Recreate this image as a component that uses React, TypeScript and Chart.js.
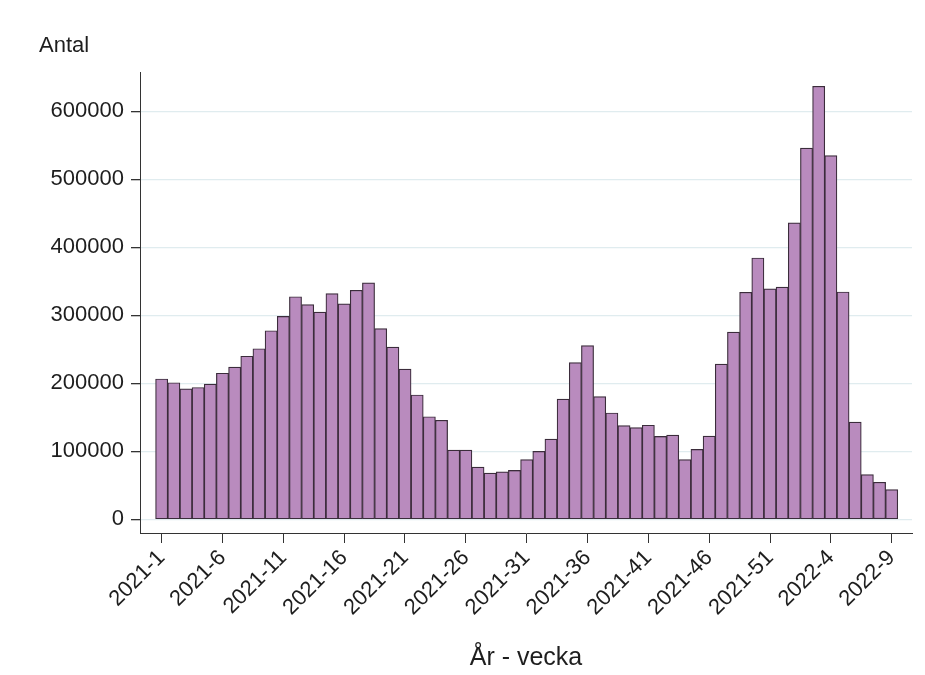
import { useEffect, useRef } from 'react';
import { Chart, registerables } from 'chart.js';

Chart.register(...registerables);

const weeks: string[] = [
  '2021-1', '2021-2', '2021-3', '2021-4', '2021-5', '2021-6', '2021-7', '2021-8', '2021-9', '2021-10',
  '2021-11', '2021-12', '2021-13', '2021-14', '2021-15', '2021-16', '2021-17', '2021-18', '2021-19', '2021-20',
  '2021-21', '2021-22', '2021-23', '2021-24', '2021-25', '2021-26', '2021-27', '2021-28', '2021-29', '2021-30',
  '2021-31', '2021-32', '2021-33', '2021-34', '2021-35', '2021-36', '2021-37', '2021-38', '2021-39', '2021-40',
  '2021-41', '2021-42', '2021-43', '2021-44', '2021-45', '2021-46', '2021-47', '2021-48', '2021-49', '2021-50',
  '2021-51', '2021-52', '2022-1', '2022-2', '2022-3', '2022-4', '2022-5', '2022-6', '2022-7', '2022-8',
  '2022-9',
];

const counts: number[] = [
  206500, 201000, 192000, 194000, 199000, 215000, 224000, 240000, 251000, 277500,
  298500, 327500, 316000, 305000, 332000, 317000, 337000, 348000, 280500, 253500,
  221000, 183000, 151000, 145700, 102000, 102000, 77000, 68000, 70000, 72000,
  88000, 100000, 118000, 177000, 230500, 255500, 180500, 156500, 138000, 135000,
  138500, 122000, 124000, 88000, 103000, 122500, 228500, 275500, 334000, 384500,
  339000, 341500, 436000, 546000, 637000, 535000, 334500, 143000, 66000, 54500,
  43700,
];

const yTickValues: number[] = [0, 100000, 200000, 300000, 400000, 500000, 600000];
const xTickIndices: number[] = [0, 5, 10, 15, 20, 25, 30, 35, 40, 45, 50, 55, 60];

const yTitle = 'Antal';
const xTitle = 'År - vecka';

const FONT = '"Liberation Sans", Arial, sans-serif';
const TEXT = '#1e1e1e';
const AXIS = '#333333';
const GRID = '#e0ecef';

export default function App() {
  const ref = useRef<HTMLCanvasElement | null>(null);

  useEffect(() => {
    if (!ref.current) return;
    const chart = new Chart(ref.current, {
      type: 'bar',
      data: {
        datasets: [
          {
            data: counts.map((v, i) => ({ x: i, y: v })),
            backgroundColor: '#b98bbe',
            borderColor: '#3b2c3b',
            borderWidth: 1.2,
            borderSkipped: false,
            barPercentage: 1,
            categoryPercentage: 1,
          },
        ],
      },
      options: {
        animation: false,
        responsive: true,
        maintainAspectRatio: false,
        devicePixelRatio: 1,
        layout: { padding: { left: 39, right: 13, top: 0, bottom: 0 } },
        plugins: {
          legend: { display: false },
          tooltip: { enabled: false },
          title: {
            display: true,
            text: yTitle,
            align: 'start',
            color: TEXT,
            font: { family: FONT, size: 22, weight: 'normal' },
            padding: { top: 32.8, bottom: 12.8 },
          },
        },
        scales: {
          x: {
            type: 'linear',
            min: -1.78,
            max: 61.67,
            offset: false,
            grid: {
              display: true,
              drawOnChartArea: false,
              drawTicks: true,
              tickLength: 10,
              tickColor: AXIS,
              offset: false,
            },
            border: { display: true, color: AXIS, width: 1 },
            afterBuildTicks: (s: any) => {
              s.ticks = xTickIndices.map((v) => ({ value: v }));
            },
            ticks: {
              autoSkip: false,
              minRotation: 45,
              maxRotation: 45,
              padding: 2,
              color: TEXT,
              font: { family: FONT, size: 22 },
              callback: (v: any) => weeks[Number(v)] ?? '',
            },
            title: {
              display: true,
              text: xTitle,
              color: TEXT,
              font: { family: FONT, size: 25 },
              padding: { top: 0, bottom: 2 },
            },
            afterFit: (s: any) => {
              s.height = 142;
            },
          },
          y: {
            type: 'linear',
            min: -20000,
            max: 658000,
            grid: {
              color: GRID,
              lineWidth: 1.3,
              drawTicks: true,
              tickLength: 9,
              tickColor: AXIS,
            },
            border: { display: true, color: AXIS, width: 1 },
            afterBuildTicks: (s: any) => {
              s.ticks = yTickValues.map((v) => ({ value: v }));
            },
            ticks: {
              autoSkip: false,
              padding: 7,
              color: TEXT,
              font: { family: FONT, size: 22 },
              callback: (v: any) => String(v),
            },
            afterFit: (s: any) => {
              s.width = 101;
            },
          },
        },
      },
    } as any);
    return () => chart.destroy();
  }, []);

  return (
    <div style={{ position: 'fixed', left: 0, top: 0, width: 925, height: 675, background: '#fff' }}>
      <canvas ref={ref} />
    </div>
  );
}
